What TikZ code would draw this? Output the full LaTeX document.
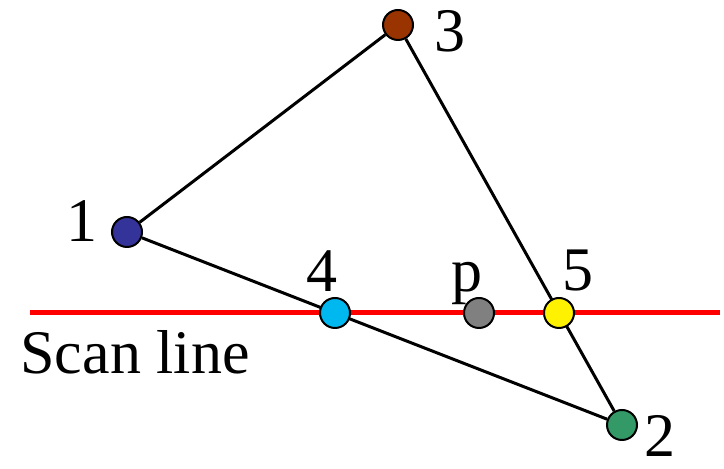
\documentclass[tikz,border=0pt]{standalone}
\usepackage{fontspec}
\setmainfont{Liberation Serif}
\definecolor{vblue}{HTML}{333399}
\definecolor{vbrown}{HTML}{993300}
\definecolor{vgreen}{HTML}{339966}
\definecolor{vcyan}{HTML}{00B8F0}
\definecolor{vgray}{HTML}{808080}
\tikzset{
  vertex/.style={circle,draw=black,line width=1pt,minimum size=15pt,inner sep=0pt},
  edge/.style={line width=1.5pt},
  lbl/.style={font=\fontsize{31}{31}\selectfont,inner sep=0pt}
}
\begin{document}
\begin{tikzpicture}[x=0.5pt,y=-0.5pt]
\useasboundingbox (0,0) rectangle (724,469);
% triangle corners
\node[vertex,fill=vblue] (v1) at (127,232) {};
\node[vertex,fill=vgreen] (v2) at (622,425) {};
\node[vertex,fill=vbrown] (v3) at (398,25) {};
\draw[edge] (v1) -- (v3) -- (v2) -- (v1);
% scan line and its points
\coordinate (sl) at (30,313);
\coordinate (sr) at (720,313);
\draw[red,line width=2.5pt] (sl) -- (sr);
\node[vertex,fill=vcyan] (v4) at (335,313) {};
\node[vertex,fill=vgray] (vp) at (479,313) {};
\node[vertex,fill=yellow] (v5) at (559,313) {};
% labels
\node[lbl] (l1) at (82,221) {1};
\node[lbl] (l2) at (660,436) {2};
\node[lbl] (l3) at (450,31) {3};
\node[lbl] (l4) at (322,271) {4};
\node[lbl] (lp) at (467,283) {p};
\node[lbl] (l5) at (578,271) {5};
\node[lbl] (lscan) at (135,352) {Scan line};
\end{tikzpicture}
\end{document}
